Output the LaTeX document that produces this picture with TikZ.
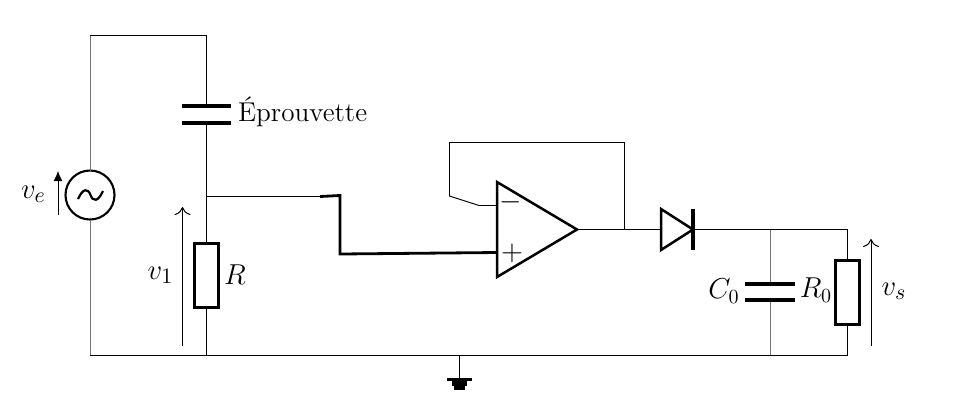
\documentclass[tikz,border=0pt]{standalone}
\usetikzlibrary{arrows.meta}
\tikzset{
  wire/.style={line width=0.48pt,black},
  greywire/.style={line width=0.5pt,black!55},
  heavy/.style={line width=1.4pt,black},
  plate/.style={line width=1.7pt,black},
  resbox/.style={draw,line width=1.6pt,fill=white,minimum width=12pt,minimum height=32pt,inner sep=0pt,outer sep=0pt},
  srcnode/.style={draw,circle,line width=1.05pt,minimum size=24.5pt,inner sep=0pt,outer sep=0pt},
  lbl/.style={inner sep=0pt,outer sep=0pt,font=\fontsize{13.6}{16}\selectfont},
  lblv/.style={inner sep=0pt,outer sep=0pt,font=\fontsize{15}{17}\selectfont},
  tri/.style={line width=1.25pt,black,line join=miter},
  volt/.style={line width=0.5pt,-{To[length=4pt,width=8pt]}},
  gbar/.style={fill=black,draw=none}
}
\begin{document}
\begin{tikzpicture}[x=0.5pt,y=-0.5pt]
\useasboundingbox (0,0) rectangle (954,409);
% nodes and anchor points
\node[srcnode] (src) at (90,195) {};
\node[resbox] (R1) at (206.5,275.5) {};
\node[resbox] (R2) at (847.5,292.5) {};
\coordinate (tl) at (90,35);
\coordinate (tr) at (206.5,35);
\coordinate (c1t) at (206.5,106);
\coordinate (c1b) at (206.5,123);
\coordinate (j1) at (206.5,196.5);
\coordinate (bl) at (90,355);
\coordinate (b1) at (206.5,355);
\coordinate (bg) at (459.5,355);
\coordinate (b2) at (770,355);
\coordinate (br) at (847.5,355);
\coordinate (k0) at (320,196.5);
\coordinate (k1) at (340,195.5);
\coordinate (k2) at (340,254);
\coordinate (oa1) at (497,182);
\coordinate (oa2) at (497,277);
\coordinate (oa3) at (577,229.5);
\coordinate (inm) at (497,205.5);
\coordinate (inp) at (497,252.5);
\coordinate (f1) at (479,205.5);
\coordinate (f2) at (449.5,196);
\coordinate (f3) at (449.5,142.5);
\coordinate (f4) at (624.5,142.5);
\coordinate (f5) at (624.5,229.5);
\coordinate (d1) at (661,209);
\coordinate (d2) at (661,250);
\coordinate (d3) at (693,229.5);
\coordinate (dm) at (661,229.5);
\coordinate (t2) at (770,229.5);
\coordinate (tr2) at (847.5,229.5);
\coordinate (c2t) at (770,284);
\coordinate (c2b) at (770,300);
\coordinate (g0) at (459.5,378);
% wires
\draw[greywire] (src.north) -- (tl);
\draw[wire] (tl) -- (tr) -- (c1t);
\draw[wire] (c1b) -- (R1.north);
\draw[wire] (R1.south) -- (b1);
\draw[greywire] (src.south) -- (bl);
\draw[wire] (bl) -- (br) -- (R2.south);
\draw[wire] (R2.north) -- (tr2) -- (d3);
\draw[wire] (j1) -- (k0);
\draw[heavy] (k0) -- (k1) -- (k2) -- (inp);
\draw[wire] (inm) -- (f1) -- (f2) -- (f3) -- (f4) -- (f5);
\draw[wire] (oa3) -- (dm);
\draw[greywire] (t2) -- (c2t) (c2b) -- (b2);
\draw[wire] (bg) -- (g0);
% capacitors
\draw[plate] (182,106) -- (231,106) (182,123) -- (231,123);
\draw[plate] (745,284) -- (795,284) (745,300) -- (795,300);
% source glyph
\draw[line width=1.1pt] (78,199) .. controls (83,188) and (88,188) .. (90.5,195) .. controls (93,202) and (98,202) .. (103,191);
% op-amp and diode
\draw[tri] (oa1) -- (oa2) -- (oa3) -- cycle;
\draw[tri] (d1) -- (d2) -- (d3) -- cycle;
\draw[plate] (693,209) -- (693,250);
% ground
\fill[gbar] (447,378) rectangle (472,381);
\fill[gbar] (452,381) rectangle (467,385.5);
\fill[gbar] (454,385.5) rectangle (465,390);
% voltage arrows
\draw[line width=0.5pt,-{Latex[length=5pt,width=4.5pt]}] (58,215) -- (58,171);
\draw[volt] (182.5,346) -- (182.5,207);
\draw[volt] (871,346) -- (871,239);
% labels
\node[lblv] (lve) at (33.5,194.5) {$v_e$};
\node[lblv] (lv1) at (160.5,275) {$v_1$};
\node[lbl] (lR) at (235,274.5) {$R$};
\node[lbl,anchor=west] (lE) at (238,112) {Éprouvette};
\node[lbl] (lC) at (724,291) {$C_0$};
\node[lbl] (lR0) at (816,290) {$R_0$};
\node[lblv] (lvs) at (894,291) {$v_s$};
\node[lblv] (lm) at (511,202) {$-$};
\node[lblv] (lp) at (512,253) {$+$};
\end{tikzpicture}
\end{document}
